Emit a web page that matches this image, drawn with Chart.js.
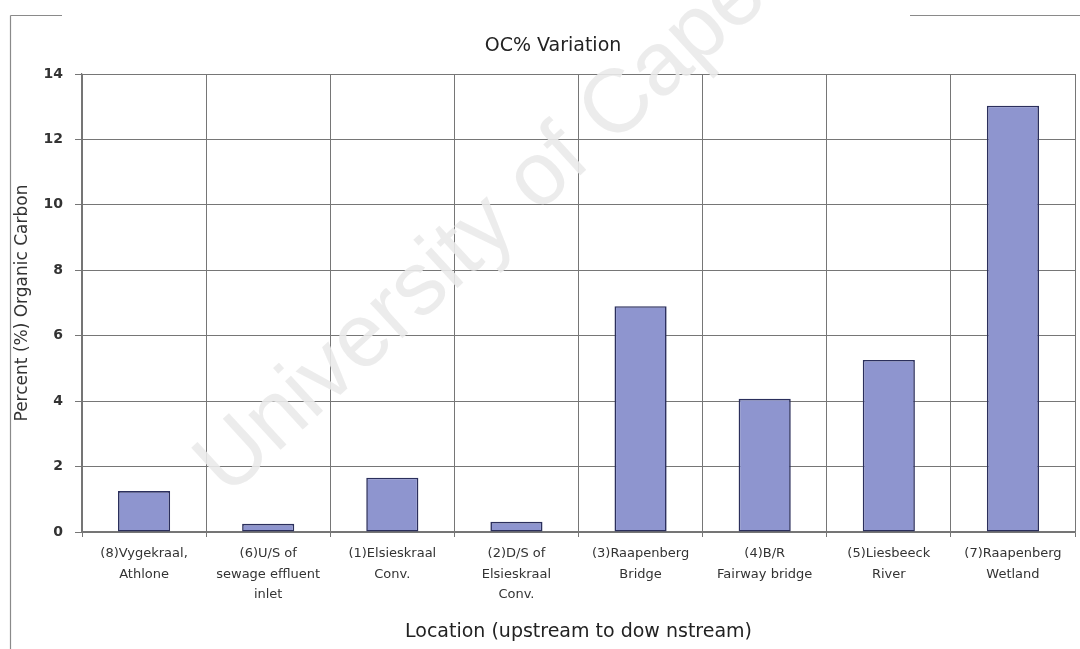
<!DOCTYPE html>
<html>
<head>
<meta charset="utf-8">
<script src="https://cdn.jsdelivr.net/npm/chart.js@4.4.1/dist/chart.umd.min.js"></script>
<style>
  html, body { margin: 0; padding: 0; background: #ffffff; }
  #wrap { width: 1080px; height: 649px; position: relative; }
</style>
</head>
<body>
<div id="wrap"><canvas id="chart" width="1080" height="649"></canvas></div>
<script>
// Sampling locations, listed from upstream to downstream
const locations = [
  ["(8)Vygekraal,", "Athlone"],
  ["(6)U/S of", "sewage effluent", "inlet"],
  ["(1)Elsieskraal", "Conv."],
  ["(2)D/S of", "Elsieskraal", "Conv."],
  ["(3)Raapenberg", "Bridge"],
  ["(4)B/R", "Fairway bridge"],
  ["(5)Liesbeeck", "River"],
  ["(7)Raapenberg", "Wetland"]
];

// Organic carbon content at each location (%)
const organicCarbon = [1.25, 0.25, 1.66, 0.31, 6.9, 4.07, 5.26, 13.03];

// Value axis range and step
const yMin = 0;
const yMax = 14;
const yStep = 2;

const chartTitle = "OC% Variation";
const xTitle = "Location (upstream to dow nstream)";
const yTitle = "Percent (%) Organic Carbon";
const watermark = "University of Cape Town";

const FONT = "'DejaVu Sans', 'Liberation Sans', Arial, sans-serif";
const GRID = "#767676";

// Outer frame pieces, the faint diagonal watermark and the heading on top
const decorations = {
  id: "decorations",
  afterDraw(chart) {
    const ctx = chart.ctx;
    ctx.save();
    ctx.strokeStyle = "#8a8a8a";
    ctx.lineWidth = 1.2;
    ctx.beginPath();
    ctx.moveTo(10.5, 15.5);
    ctx.lineTo(10.5, 649);
    ctx.moveTo(10.5, 15.5);
    ctx.lineTo(62, 15.5);
    ctx.moveTo(910, 15.5);
    ctx.lineTo(1080, 15.5);
    ctx.stroke();

    ctx.save();
    ctx.translate(228, 498);
    ctx.rotate(-42.5 * Math.PI / 180);
    ctx.font = "90px 'Liberation Sans', Arial, sans-serif";
    ctx.fillStyle = "rgba(234,234,234,0.9)";
    ctx.textAlign = "left";
    ctx.textBaseline = "alphabetic";
    ctx.fillText(watermark, 0, 0);
    ctx.restore();

    ctx.fillStyle = "#222222";
    ctx.font = "19px " + FONT;
    ctx.textAlign = "center";
    ctx.textBaseline = "middle";
    ctx.fillText(chartTitle, 553, 46);
    ctx.restore();
  }
};

new Chart(document.getElementById("chart"), {
  type: "bar",
  data: {
    labels: locations,
    datasets: [{
      label: "OC %",
      data: organicCarbon,
      backgroundColor: "#8e95cf",
      borderColor: "#2b2f5c",
      borderWidth: 1.6,
      borderSkipped: false,
      categoryPercentage: 1.0,
      barPercentage: 0.42
    }]
  },
  options: {
    responsive: false,
    animation: false,
    devicePixelRatio: 1,
    layout: { padding: { left: 0, right: 5, top: 74, bottom: 0 } },
    plugins: {
      legend: { display: false },
      tooltip: { enabled: false },
      title: { display: false }
    },
    scales: {
      x: {
        grid: {
          color: GRID,
          lineWidth: 1,
          offset: true,
          drawTicks: true,
          tickLength: 5
        },
        border: { color: GRID, width: 1.2 },
        ticks: {
          color: "#333333",
          font: { family: FONT, size: 13, lineHeight: 1.55 },
          padding: 7,
          maxRotation: 0,
          autoSkip: false
        },
        title: {
          display: true,
          text: xTitle,
          color: "#222222",
          font: { family: FONT, size: 19, lineHeight: 1.2 },
          padding: { top: 0, bottom: 6 }
        },
        afterFit(scale) { scale.height = 117; }
      },
      y: {
        min: yMin,
        max: yMax,
        grid: {
          color: GRID,
          lineWidth: 1,
          drawTicks: true,
          tickLength: 7
        },
        border: { color: GRID, width: 1.2 },
        ticks: {
          stepSize: yStep,
          color: "#333333",
          font: { family: FONT, size: 14, weight: "bold" },
          padding: 12
        },
        title: {
          display: true,
          text: yTitle,
          color: "#333333",
          font: { family: FONT, size: 17, lineHeight: 1.2 },
          padding: { top: 12, bottom: 0 }
        },
        afterFit(scale) { scale.width = 82; }
      }
    }
  },
  plugins: [decorations]
});
</script>
</body>
</html>
